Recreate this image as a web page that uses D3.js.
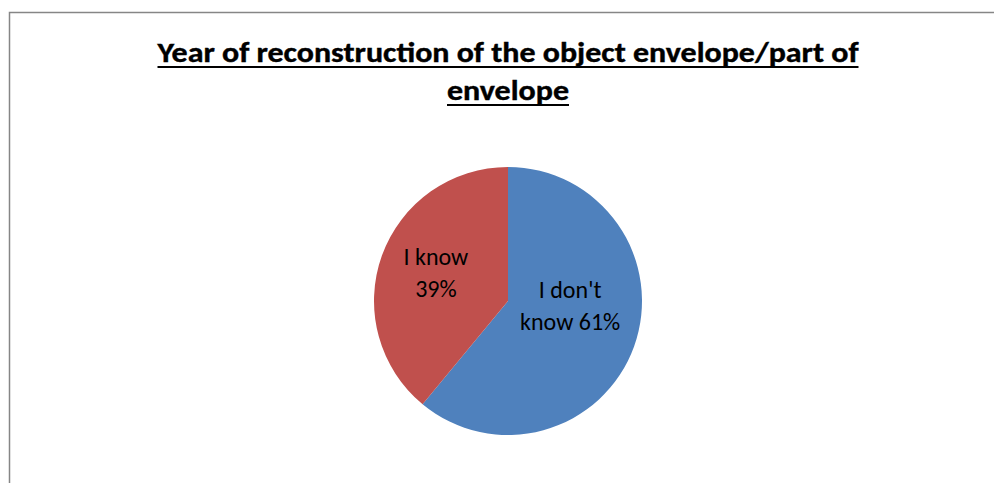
<!DOCTYPE html>
<html>
<head>
<meta charset="utf-8">
<script src="https://cdn.jsdelivr.net/npm/d3@7"></script>
<style>
  html, body { margin: 0; padding: 0; background: #fff; }
  svg { display: block; }
</style>
</head>
<body>
<svg id="chart" width="994" height="483"></svg>
<script>
// Survey answers
const categories = ["I don't know", "I know"];
const values = [61, 39];
const colors = ["#4F81BD", "#C0504D"];
const labelLines = [["I don't", "know 61%"], ["I know", "39%"]];
const titleLines = ["Year of reconstruction of the object envelope/part of", "envelope"];

const svg = d3.select("#chart");
const fontFamily = "Carlito, Calibri, Lato, 'Open Sans', sans-serif";

// Chart area frame
svg.append("rect")
  .attr("x", 9.5).attr("y", 12.5)
  .attr("width", 1000).attr("height", 500)
  .attr("fill", "#fff")
  .attr("stroke", "#868686").attr("stroke-width", 1.5);

// Title (bold, underlined), fitted to its line width
const titleWidths = [701, 122];
const titleY = [62, 100];
titleLines.forEach((t, i) => {
  svg.append("text")
    .attr("x", 508).attr("y", titleY[i])
    .attr("text-anchor", "middle")
    .attr("font-family", fontFamily)
    .attr("font-weight", "bold")
    .attr("font-size", 28)
    .attr("fill", "#000")
    .attr("stroke", "#000").attr("stroke-width", 0.4)
    .attr("textLength", titleWidths[i])
    .attr("lengthAdjust", "spacingAndGlyphs")
    .text(t);
  svg.append("line")
    .attr("x1", 508 - titleWidths[i] / 2).attr("x2", 508 + titleWidths[i] / 2)
    .attr("y1", titleY[i] + 5).attr("y2", titleY[i] + 5)
    .attr("stroke", "#000").attr("stroke-width", 2);
});

// Pie
const cx = 508, cy = 301, r = 134;
const pie = d3.pie().sort(null).value(d => d)(values);
const arc = d3.arc().innerRadius(0).outerRadius(r);
const g = svg.append("g").attr("transform", `translate(${cx},${cy})`);

g.selectAll("path.slice")
  .data(pie)
  .join("path")
  .attr("class", "slice")
  .attr("d", arc)
  .attr("fill", (d, i) => colors[i]);

// Slice labels, placed at the slice centroid with a small nudge
const labelArc = d3.arc().innerRadius(r * 0.58).outerRadius(r * 0.58);
const labelNudge = [[-11, -21], [1, -2]];
const lineH = 32;
pie.forEach((d, i) => {
  const [cxl, cyl] = labelArc.centroid(d);
  const lx = cxl + labelNudge[i][0];
  const ly = cyl + labelNudge[i][1];
  const lines = labelLines[i];
  const t = g.append("text")
    .attr("text-anchor", "middle")
    .attr("font-family", fontFamily)
    .attr("font-size", 24)
    .attr("fill", "#000");
  lines.forEach((s, k) => {
    t.append("tspan")
      .attr("x", lx)
      .attr("y", ly + (k - (lines.length - 1) / 2) * lineH + 8)
      .text(s);
  });
});
</script>
</body>
</html>
